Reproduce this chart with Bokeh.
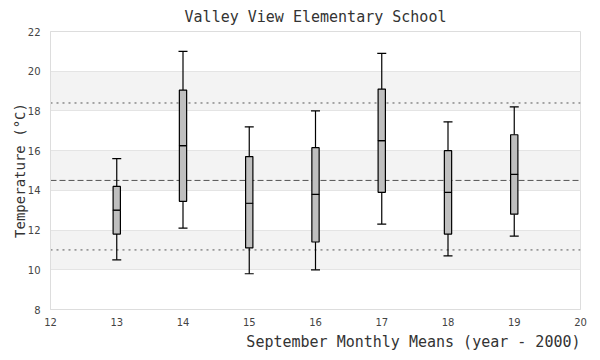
from bokeh.plotting import figure
from bokeh.models import Span, Title, FixedTicker
from bokeh.embed import file_html
from bokeh.resources import INLINE

# data
years = [13, 14, 15, 16, 17, 18, 19]
lower = [10.5, 12.1, 9.8, 10.0, 12.3, 10.7, 11.7]
q1 = [11.8, 13.45, 11.1, 11.4, 13.9, 11.8, 12.8]
median = [13.0, 16.25, 13.35, 13.8, 16.5, 13.9, 14.8]
q3 = [14.2, 19.05, 15.7, 16.15, 19.1, 16.0, 16.8]
upper = [15.6, 21.0, 17.2, 18.0, 20.9, 17.45, 18.2]
ref_low = 11.0
ref_mean = 14.5
ref_high = 18.4
x_ticks = [12, 13, 14, 15, 16, 17, 18, 19, 20]
y_ticks = [8, 10, 12, 14, 16, 18, 20, 22]

MONO = "DejaVu Sans Mono"

p = figure(width=592, height=352, x_range=(12, 20), y_range=(8, 22),
           output_backend="svg", toolbar_location=None,
           min_border_left=50, min_border_right=12, min_border_top=30, min_border_bottom=42)

p.title.text = "Valley View Elementary School"
p.title.align = "center"
p.title.text_font = MONO
p.title.text_font_size = "15px"
p.title.text_font_style = "normal"
p.title.text_color = "#333333"
p.title.standoff = 11

p.outline_line_color = "#dddddd"
p.xgrid.grid_line_color = None
p.ygrid.grid_line_color = "#e4e4e4"
p.ygrid.band_fill_color = "#f3f3f3"
p.ygrid.band_fill_alpha = 1.0

p.xaxis.ticker = FixedTicker(ticks=x_ticks)
p.yaxis.ticker = FixedTicker(ticks=y_ticks)
for ax in (p.xaxis, p.yaxis):
    ax.axis_line_color = "#dddddd"
    ax.major_tick_line_color = None
    ax.minor_tick_line_color = None
    ax.major_tick_out = 0
    ax.major_tick_in = 0
    ax.minor_tick_out = 0
    ax.minor_tick_in = 0
    ax.major_label_text_font = "DejaVu Sans"
    ax.major_label_text_font_size = "10px"
    ax.major_label_text_color = "#444444"
p.xaxis.major_label_standoff = 8
p.yaxis.major_label_standoff = 10

p.yaxis.axis_label = "Temperature (°C)"
p.yaxis.axis_label_text_font = MONO
p.yaxis.axis_label_text_font_size = "14px"
p.yaxis.axis_label_text_font_style = "normal"
p.yaxis.axis_label_text_color = "#333333"
p.yaxis.axis_label_standoff = -3

xt = Title(text="September Monthly Means (year - 2000)", align="right",
           text_font=MONO, text_font_size="15px", text_font_style="normal",
           text_color="#333333", standoff=4, offset=0)
p.add_layout(xt, "below")

for loc, dash in ((ref_high, "2 4"), (ref_mean, "6 3"), (ref_low, "2 4")):
    p.add_layout(Span(location=loc, dimension="width", line_color="#555555",
                      line_width=1, line_dash=dash, level="underlay"))

# stems
p.segment(x0=years, y0=q3, x1=years, y1=upper, line_color="black", line_width=1.2)
p.segment(x0=years, y0=lower, x1=years, y1=q1, line_color="black", line_width=1.2)
# caps
p.dash(x=years, y=upper, size=9, line_color="black", line_width=1.2)
p.dash(x=years, y=lower, size=9, line_color="black", line_width=1.2)
# boxes
p.vbar(x=years, width=0.11, bottom=q1, top=median, fill_color="#bfbfbf",
       line_color="black", line_width=1.2)
p.vbar(x=years, width=0.11, bottom=median, top=q3, fill_color="#bfbfbf",
       line_color="black", line_width=1.2)

open("out.html", "w").write(file_html(p, INLINE))
